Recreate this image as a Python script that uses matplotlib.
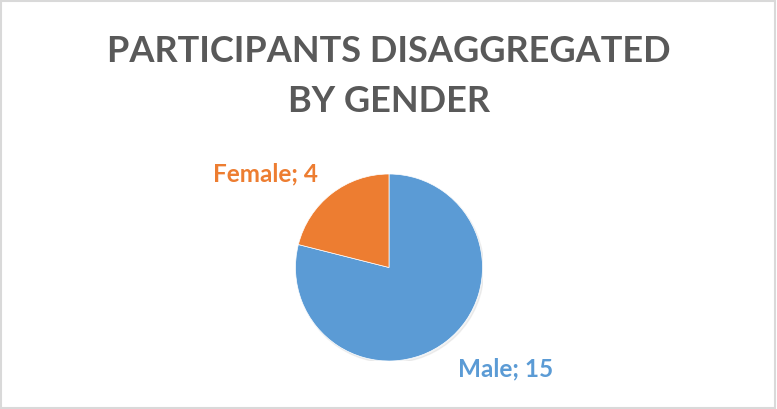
import matplotlib
matplotlib.use("Agg")
import matplotlib.pyplot as plt
from matplotlib.patches import Rectangle, Circle

# Dane
labels = ["Male", "Female"]
values = [15, 4]
colors = ["#5B9BD5", "#ED7D31"]
title_lines = ["PARTICIPANTS DISAGGREGATED", "BY GENDER"]

plt.rcParams['font.family'] = ['Lato', 'DejaVu Sans']

W, H = 777, 410
fig = plt.figure(figsize=(W / 100, H / 100), dpi=100)
fig.patch.set_facecolor("white")

# ramka wykresu
fig.patches.append(Rectangle((1 / W, 1 / H), 1 - 3 / W, 1 - 3 / H, transform=fig.transFigure,
                             fill=False, edgecolor="#D9D9D9", linewidth=1.5))

# tytuł (dwie linie)
for line, y in zip(title_lines, [52, 102]):
    fig.text(389 / W, 1 - y / H, line, ha="center", va="center", fontsize=26,
             fontweight="bold", color="#595959")

# wykres kołowy
cx, cy, r = 389, 268.5, 93.5
ax = fig.add_axes([(cx - r) / W, (H - cy - r) / H, 2 * r / W, 2 * r / H])
ax.add_patch(Circle((0.015, -0.02), 1.0, color="#000000", alpha=0.05, zorder=0))
wedges, _ = ax.pie(values, colors=colors, startangle=90, counterclock=False, radius=1.0,
                   wedgeprops=dict(edgecolor="white", linewidth=0.5))
ax.set_xlim(-1, 1)
ax.set_ylim(-1, 1)
ax.axis("off")

# etykiety danych
fig.text(265 / W, 1 - 174 / H, f"{labels[1]}; {values[1]}", ha="center", va="center",
         fontsize=17.5, fontweight="bold", color=colors[1])
fig.text(506 / W, 1 - 369 / H, f"{labels[0]}; {values[0]}", ha="center", va="center",
         fontsize=17.5, fontweight="bold", color=colors[0])

fig.savefig("out.png", dpi=100)
